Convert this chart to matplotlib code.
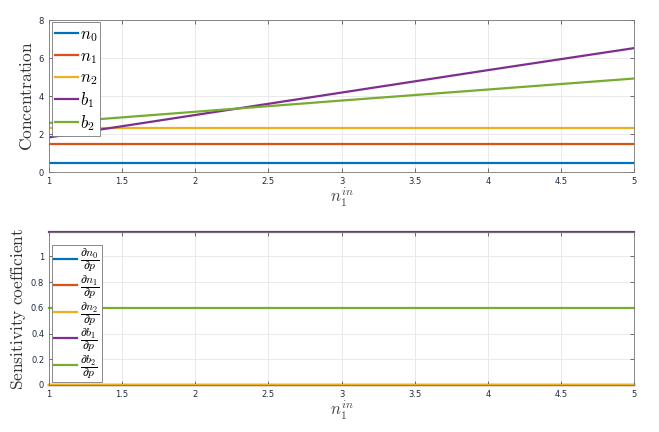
import matplotlib
matplotlib.use("Agg")
import matplotlib.pyplot as plt

# data
x_in = [1, 2, 3, 4, 5]

conc_n0 = [0.48, 0.48, 0.48, 0.48, 0.48]
conc_n1 = [1.46, 1.46, 1.46, 1.46, 1.46]
conc_n2 = [2.32, 2.32, 2.32, 2.32, 2.32]
conc_b1 = [1.82, 3.0, 4.18, 5.36, 6.52]
conc_b2 = [2.58, 3.17, 3.76, 4.34, 4.92]

sens_n0 = [0, 0, 0, 0, 0]
sens_n1 = [0, 0, 0, 0, 0]
sens_n2 = [0, 0, 0, 0, 0]
sens_b1 = [1.19, 1.19, 1.19, 1.19, 1.19]
sens_b2 = [0.596, 0.596, 0.596, 0.596, 0.596]

conc_labels = [r"$n_0$", r"$n_1$", r"$n_2$", r"$b_1$", r"$b_2$"]
sens_labels = [r"$\dfrac{\partial n_0}{\partial p}$", r"$\dfrac{\partial n_1}{\partial p}$",
               r"$\dfrac{\partial n_2}{\partial p}$", r"$\dfrac{\partial b_1}{\partial p}$",
               r"$\dfrac{\partial b_2}{\partial p}$"]
colors = ["#0072BD", "#D95319", "#EDB120", "#7E2F8E", "#77AC30"]

plt.rcParams['mathtext.fontset'] = 'cm'
plt.rcParams['font.family'] = 'DejaVu Sans'

fig = plt.figure(figsize=(6.59, 4.32), dpi=100)
W, H = 659, 432
ax1 = fig.add_axes([49 / W, 1 - 172 / H, 585 / W, 152 / H])
ax2 = fig.add_axes([49 / W, 1 - 385 / H, 585 / W, 153 / H])


def style(ax):
    ax.set_xlim(1, 5)
    ax.set_xticks([1, 1.5, 2, 2.5, 3, 3.5, 4, 4.5, 5])
    ax.set_xticklabels(["1", "1.5", "2", "2.5", "3", "3.5", "4", "4.5", "5"])
    ax.grid(True, color="#e6e6e6", linewidth=0.6)
    ax.set_axisbelow(True)
    ax.tick_params(direction="in", length=3, width=0.6, colors="#555555",
                   labelcolor="#1f2a44", labelsize=6, top=True, right=True)
    for s in ax.spines.values():
        s.set_color("#777777")
        s.set_linewidth(0.6)
    ax.set_xlabel(r"$n_1^{in}$", fontsize=12, labelpad=0, color="#444444")


def frame(leg):
    leg.get_frame().set_edgecolor("#777777")
    leg.get_frame().set_linewidth(0.6)


series1 = [conc_n0, conc_n1, conc_n2, conc_b1, conc_b2]
for ys, c, lab in zip(series1, colors, conc_labels):
    ax1.plot(x_in, ys, color=c, linewidth=1.6, label=lab)
style(ax1)
ax1.set_ylim(0, 8)
ax1.set_yticks([0, 2, 4, 6, 8])
ax1.set_ylabel(r"$\mathrm{Concentration}$", fontsize=12.5, labelpad=2, color="#333333")
leg1 = ax1.legend(loc="upper left", bbox_to_anchor=(0.005, 0.987), fontsize=12,
                  handlelength=1.35, handletextpad=0.12, borderpad=0.2,
                  labelspacing=0.17, fancybox=False, borderaxespad=0, framealpha=1)
frame(leg1)

series2 = [sens_n0, sens_n1, sens_n2, sens_b1, sens_b2]
for ys, c, lab in zip(series2, colors, sens_labels):
    ax2.plot(x_in, ys, color=c, linewidth=1.6, label=lab, clip_on=False)
style(ax2)
ax2.set_ylim(0, 1.19)
ax2.set_yticks([0, 0.2, 0.4, 0.6, 0.8, 1])
ax2.set_yticklabels(["0", "0.2", "0.4", "0.6", "0.8", "1"])
ax2.set_ylabel(r"$\mathrm{Sensitivity\ coefficient}$", fontsize=12.5, labelpad=2,
               color="#333333")
leg2 = ax2.legend(loc="upper left", bbox_to_anchor=(0.005, 0.915), fontsize=8.5,
                  handlelength=1.95, handletextpad=0.3, borderpad=0.15,
                  labelspacing=-0.1, fancybox=False, borderaxespad=0, framealpha=1)
frame(leg2)

fig.savefig("out.png", dpi=100)
